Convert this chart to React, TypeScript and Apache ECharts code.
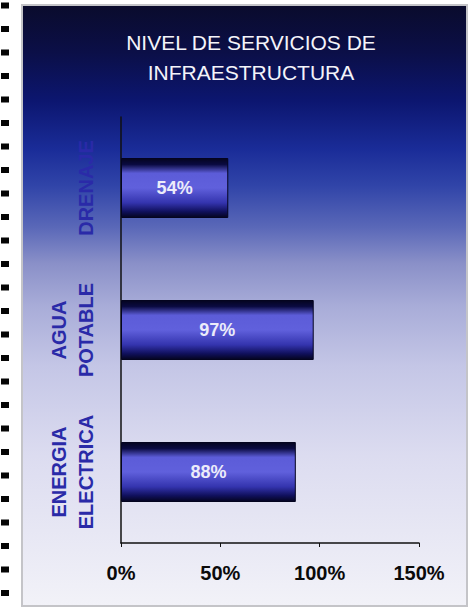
import React, { useEffect, useRef } from "react";
import * as echarts from "echarts";

const categories = ["ENERGIA\nELECTRICA", "AGUA\nPOTABLE", "DRENAJE"];
const values = [88, 97, 54];
const xMin = 0;
const xMax = 150;
const xStep = 50;
const titleText = "NIVEL DE SERVICIOS DE\nINFRAESTRUCTURA";

const FONT = "'Liberation Sans', Arial, Helvetica, sans-serif";

export default function App() {
  const ref = useRef<HTMLDivElement>(null);

  useEffect(() => {
    document.body.style.margin = "0";
    const chart = echarts.init(ref.current as HTMLDivElement, null, { renderer: "svg" });

    const film: any[] = [];
    for (let y = 2.5; y < 606; y += 23.5) {
      film.push({ type: "rect", z: -5, shape: { x: 1, y, width: 8, height: 6 }, style: { fill: "#050505" } });
    }

    const option: any = {
      animation: false,
      backgroundColor: "#ffffff",
      title: {
        text: titleText,
        left: 246,
        top: 22,
        textAlign: "center",
        textStyle: {
          color: "#f4f4fa",
          fontSize: 21,
          fontWeight: "normal",
          lineHeight: 30,
          fontFamily: FONT,
        },
      },
      graphic: [
        {
          type: "rect",
          z: -10,
          silent: true,
          shape: { x: 22, y: 5, width: 445, height: 601 },
          style: {
            fill: new echarts.graphic.LinearGradient(0, 0, 0, 1, [
              { offset: 0, color: "#0a0b2c" },
              { offset: 0.08, color: "#0b0f48" },
              { offset: 0.16, color: "#0c1670" },
              { offset: 0.24, color: "#1a2c98" },
              { offset: 0.3, color: "#3044a8" },
              { offset: 0.37, color: "#5a68b8" },
              { offset: 0.43, color: "#8a90c8" },
              { offset: 0.5, color: "#a8acd8" },
              { offset: 0.6, color: "#c4c6e6" },
              { offset: 0.75, color: "#dcdcf0" },
              { offset: 1, color: "#f2f2f8" },
            ]),
            stroke: "#c4c4c8",
            lineWidth: 2,
          },
        },
        ...film,
      ],
      grid: { left: 121, right: 51, top: 117, bottom: 65, containLabel: false },
      xAxis: {
        type: "value",
        min: xMin,
        max: xMax,
        interval: xStep,
        axisLine: { show: true, lineStyle: { color: "#111", width: 1.5 } },
        axisTick: { show: true, length: 4, lineStyle: { color: "#111" } },
        splitLine: { show: false },
        axisLabel: {
          formatter: "{value}%",
          color: "#0a0a0a",
          fontSize: 20,
          fontWeight: "bold",
          fontFamily: FONT,
          margin: 20,
        },
      },
      yAxis: {
        type: "category",
        data: categories,
        axisLine: { show: true, lineStyle: { color: "#111", width: 1.5 } },
        axisTick: { show: false },
        splitLine: { show: false },
        axisLabel: {
          interval: 0,
          rotate: 90,
          color: "#2a2aa8",
          fontSize: 20,
          fontWeight: "bold",
          lineHeight: 27,
          fontFamily: FONT,
          margin: 22,
        },
      },
      series: [
        {
          type: "bar",
          data: values,
          barWidth: 60,
          itemStyle: {
            color: new echarts.graphic.LinearGradient(0, 0, 0, 1, [
              { offset: 0, color: "#04041f" },
              { offset: 0.1, color: "#0a0a40" },
              { offset: 0.25, color: "#5c5cd8" },
              { offset: 0.5, color: "#6060dc" },
              { offset: 0.75, color: "#3434ae" },
              { offset: 0.9, color: "#10105c" },
              { offset: 1, color: "#04041f" },
            ]),
            borderColor: "#04041f",
            borderWidth: 1,
          },
          label: {
            show: true,
            position: "inside",
            formatter: "{c}%",
            color: "#ececfa",
            fontSize: 18,
            fontWeight: "bold",
            fontFamily: FONT,
          },
        },
      ],
    };

    chart.setOption(option);
    return () => chart.dispose();
  }, []);

  return (
    <div
      ref={ref}
      style={{ position: "absolute", left: 0, top: 0, width: 470, height: 608 }}
    />
  );
}
